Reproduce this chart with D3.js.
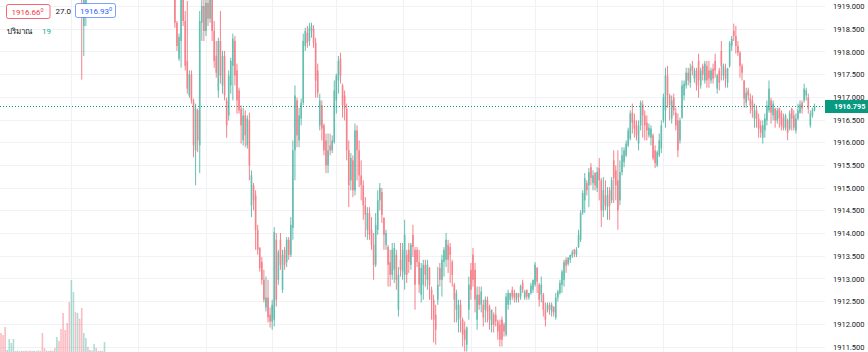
<!DOCTYPE html>
<html><head><meta charset="utf-8">
<script src="https://cdn.jsdelivr.net/npm/d3@7"></script>
<style>html,body{margin:0;padding:0;background:#fff;}svg{display:block;}</style>
</head><body><div id="chart"></div>
<script>
// ---- data (one 1-minute candle per slot; early slots sit above the visible range) ----
const opens = [
1920.60,1920.40,1920.25,1920.05,1920.15,1920.30,1920.42,1920.55,1920.48,1920.52,
1920.45,1920.50,1920.58,1920.53,1920.60,1920.55,1920.62,1920.66,1920.60,1920.64,
1920.58,1920.35,1920.30,1920.34,1920.38,1920.33,1920.37,1920.28,1920.40,1920.32,
1920.10,1919.85,1919.70,1919.55,1919.30,1919.75,1920.05,1919.80,1919.95,1919.70,
1918.56,1918.90,1919.40,1919.30,1919.58,1919.66,1919.82,1919.68,1919.76,1919.86,
1919.78,1919.96,1920.04,1919.98,1920.10,1920.16,1920.08,1920.12,1920.22,1920.15,
1920.20,1920.26,1920.18,1920.10,1920.04,1920.08,1919.96,1919.90,1919.95,1919.84,
1919.80,1919.88,1919.82,1919.74,1919.80,1919.70,1919.62,1919.70,1919.60,1919.52,
1919.58,1919.50,1919.46,1919.52,1919.44,1918.63,1917.84,1918.23,1919.22,1918.67,
1917.79,1917.03,1917.49,1916.92,1915.82,1916.70,1915.93,1918.63,1919.00,1918.45,
1919.07,1918.72,1919.22,1918.45,1917.90,1917.14,1918.23,1917.25,1917.90,1916.92,
1916.59,1917.25,1917.68,1918.23,1917.58,1917.14,1916.74,1916.04,1916.59,1915.93,
1916.48,1914.61,1915.05,1914.83,1914.07,1913.67,1913.36,1912.97,1912.36,1912.58,
1912.20,1912.05,1912.09,1913.85,1912.97,1913.85,1912.75,1913.63,1913.36,1913.85,
1913.52,1914.11,1915.82,1916.92,1916.04,1916.52,1916.87,1918.12,1918.41,1918.23,
1918.45,1918.50,1918.19,1917.58,1916.37,1916.81,1916.37,1916.04,1915.49,1915.93,
1915.82,1916.00,1916.92,1917.36,1917.84,1917.25,1917.03,1916.74,1915.82,1915.16,
1915.60,1914.94,1916.26,1915.82,1915.27,1915.05,1914.61,1914.07,1914.44,1914.07,
1913.74,1913.30,1914.07,1914.72,1914.90,1914.33,1913.74,1913.69,1913.36,1913.08,
1913.19,1913.52,1912.31,1913.41,1913.15,1913.08,1913.52,1913.63,1913.30,1913.96,
1913.63,1913.63,1913.36,1912.64,1912.86,1913.30,1912.97,1913.23,1912.75,1912.53,
1912.20,1912.53,1913.23,1912.97,1913.36,1913.41,1913.74,1913.69,1913.36,1912.86,
1912.31,1912.09,1912.42,1912.09,1911.87,1911.54,1912.31,1913.19,1913.52,1913.19,
1912.09,1912.64,1912.42,1912.42,1912.31,1912.53,1912.38,1911.98,1912.20,1912.20,
1912.05,1911.98,1912.09,1911.98,1911.76,1912.42,1912.53,1912.75,1912.68,1912.53,
1912.66,1912.60,1912.90,1912.58,1912.75,1912.58,1912.68,1912.75,1912.86,1913.23,
1912.86,1912.64,1912.64,1912.31,1912.31,1912.42,1912.27,1912.38,1912.14,1912.58,
1912.68,1912.86,1912.97,1913.41,1913.32,1913.41,1913.50,1913.63,1913.52,1913.69,
1913.85,1914.44,1914.72,1915.10,1915.05,1915.45,1915.10,1915.32,1914.99,1915.43,
1915.16,1914.50,1914.83,1914.57,1914.94,1914.72,1915.60,1915.38,1915.16,1914.72,
1915.34,1915.56,1915.71,1915.93,1916.08,1916.65,1916.48,1916.37,1915.97,1916.37,
1916.83,1916.59,1916.43,1916.15,1916.10,1916.15,1915.82,1915.49,1915.71,1915.86,
1916.48,1916.70,1917.47,1917.03,1916.52,1916.98,1916.65,1916.48,1916.04,1916.54,
1917.03,1917.25,1917.53,1917.31,1917.68,1917.40,1917.58,1917.79,1917.25,1917.68,
1917.36,1917.68,1917.58,1917.36,1917.62,1917.79,1917.18,1917.58,1918.01,1917.47,
1917.62,1917.31,1917.68,1918.12,1918.45,1918.34,1918.12,1917.97,1917.68,1917.36,
1916.87,1917.14,1916.96,1916.92,1916.52,1916.70,1916.52,1916.37,1916.10,1916.26,
1916.48,1916.70,1916.92,1916.59,1916.74,1916.48,1916.74,1916.65,1916.54,1916.32,
1916.48,1916.30,1916.74,1916.59,1916.26,1916.52,1916.65,1916.87,1916.92,1917.03,
1916.98,1916.37,1916.59,1916.70];
const highs = [
1920.70,1920.48,1920.30,1920.22,1920.38,1920.50,1920.62,1920.60,1920.58,1920.56,
1920.55,1920.62,1920.61,1920.66,1920.63,1920.67,1920.71,1920.70,1920.69,1920.67,
1920.62,1920.40,1920.39,1920.43,1920.41,1920.42,1920.40,1920.47,1920.44,1920.36,
1920.15,1919.92,1919.76,1919.60,1919.82,1920.12,1920.10,1920.02,1920.00,1919.85,
1919.40,1919.50,1919.52,1919.62,1919.70,1919.88,1919.86,1919.80,1919.90,1919.92,
1920.02,1920.08,1920.10,1920.14,1920.20,1920.22,1920.18,1920.26,1920.28,1920.24,
1920.30,1920.32,1920.24,1920.16,1920.12,1920.12,1920.02,1920.00,1920.00,1919.90,
1919.92,1919.94,1919.86,1919.84,1919.85,1919.76,1919.74,1919.75,1919.66,1919.62,
1919.64,1919.58,1919.56,1919.60,1919.66,1918.67,1918.39,1919.44,1919.55,1918.89,
1919.11,1917.58,1917.58,1916.96,1916.85,1916.74,1918.89,1919.22,1919.33,1919.55,
1919.33,1919.55,1919.33,1918.67,1918.23,1918.30,1918.89,1918.01,1918.01,1916.98,
1917.58,1917.86,1918.39,1918.34,1917.73,1917.20,1916.81,1916.76,1916.70,1916.59,
1916.65,1915.38,1915.10,1914.94,1914.18,1913.69,1913.47,1913.19,1913.04,1912.97,
1912.36,1912.53,1914.13,1914.00,1913.63,1914.00,1913.63,1913.69,1913.91,1913.91,
1914.35,1916.04,1917.25,1916.98,1916.76,1916.96,1918.39,1918.52,1918.56,1918.63,
1918.63,1918.58,1918.30,1917.73,1917.07,1916.92,1916.41,1916.19,1916.19,1916.19,
1916.15,1917.36,1917.51,1917.90,1917.97,1917.29,1917.14,1916.85,1916.04,1915.76,
1915.71,1916.41,1916.37,1916.04,1915.60,1915.16,1914.79,1914.57,1914.57,1914.35,
1914.00,1914.44,1914.94,1915.10,1914.99,1914.35,1914.07,1913.74,1913.63,1913.78,
1913.78,1913.63,1913.25,1913.78,1913.78,1914.29,1913.63,1913.78,1913.78,1914.18,
1913.69,1913.69,1913.63,1913.34,1913.41,1913.41,1913.41,1913.25,1912.82,1912.64,
1912.42,1913.25,1913.34,1913.52,1913.69,1914.00,1913.85,1913.78,1913.41,1912.90,
1912.75,1912.53,1912.53,1912.14,1912.05,1911.94,1913.04,1913.34,1913.67,1913.34,
1912.82,1912.82,1912.82,1912.53,1912.60,1912.60,1912.42,1912.31,1912.25,1912.38,
1912.09,1912.09,1912.16,1912.03,1912.68,1912.75,1912.68,1912.82,1912.75,1912.68,
1912.68,1912.86,1912.97,1912.75,1912.75,1912.68,1912.90,1912.97,1913.36,1913.25,
1912.90,1913.04,1912.68,1912.47,1912.47,1912.47,1912.47,1912.38,1912.68,1912.75,
1912.97,1913.19,1913.41,1913.47,1913.47,1913.52,1913.63,1913.65,1913.69,1914.07,
1914.50,1914.94,1915.32,1915.16,1915.43,1915.54,1915.38,1915.34,1915.45,1915.65,
1915.21,1915.23,1915.16,1915.01,1915.01,1915.23,1915.82,1915.49,1915.82,1915.60,
1915.89,1915.89,1916.04,1916.32,1916.70,1916.85,1916.63,1916.48,1916.48,1916.92,
1916.92,1916.70,1916.59,1916.41,1916.37,1916.19,1915.93,1915.82,1916.19,1916.48,
1917.07,1917.64,1917.68,1917.07,1917.03,1917.07,1916.76,1916.63,1916.54,1917.36,
1917.36,1917.64,1917.64,1917.73,1917.79,1917.64,1917.64,1917.95,1917.64,1917.73,
1917.79,1917.79,1917.79,1917.64,1917.73,1917.95,1917.51,1917.64,1918.23,1917.73,
1917.73,1917.64,1918.23,1918.34,1918.61,1918.56,1918.23,1918.01,1917.73,1917.36,
1917.20,1917.20,1917.07,1917.03,1916.85,1916.81,1916.63,1916.48,1916.48,1916.63,
1916.92,1917.36,1916.98,1916.92,1916.76,1916.76,1916.76,1916.70,1916.63,1916.63,
1916.52,1916.70,1916.76,1916.70,1916.63,1916.85,1916.92,1916.92,1917.29,1917.20,
1917.07,1916.70,1916.76,1916.85];
const lows = [
1920.32,1920.18,1919.95,1919.98,1920.08,1920.22,1920.36,1920.42,1920.44,1920.40,
1920.42,1920.47,1920.49,1920.50,1920.51,1920.52,1920.58,1920.55,1920.57,1920.52,
1920.28,1920.24,1920.27,1920.30,1920.28,1920.30,1920.22,1920.25,1920.26,1920.02,
1919.78,1919.62,1919.48,1919.24,1919.26,1919.70,1919.74,1919.72,1919.62,1917.38,
1917.90,1918.56,1919.25,1919.28,1919.50,1919.60,1919.62,1919.64,1919.70,1919.74,
1919.74,1919.90,1919.94,1919.95,1920.04,1920.05,1920.02,1920.08,1920.12,1920.10,
1920.14,1920.16,1920.06,1919.98,1919.98,1919.92,1919.86,1919.85,1919.80,1919.74,
1919.76,1919.78,1919.70,1919.70,1919.66,1919.58,1919.58,1919.56,1919.48,1919.48,
1919.44,1919.42,1919.40,1919.38,1918.52,1918.01,1917.79,1917.64,1918.56,1917.58,
1917.07,1916.98,1916.85,1915.67,1915.05,1915.78,1915.32,1918.23,1918.23,1918.34,
1918.56,1918.63,1918.23,1917.64,1917.42,1916.98,1917.29,1917.07,1916.92,1916.10,
1916.48,1917.07,1916.92,1917.25,1916.63,1916.63,1915.97,1915.93,1915.89,1915.86,
1915.16,1914.35,1914.50,1913.63,1913.52,1913.15,1912.86,1912.47,1912.27,1912.03,
1911.92,1911.87,1911.94,1912.38,1912.86,1913.19,1912.68,1913.19,1913.25,1913.41,
1913.47,1913.85,1915.16,1915.89,1915.89,1916.37,1916.81,1918.01,1918.08,1918.12,
1918.30,1918.08,1916.98,1916.98,1916.26,1916.04,1915.71,1915.32,1915.32,1915.71,
1915.76,1915.97,1916.63,1917.07,1917.29,1916.54,1916.48,1915.60,1914.57,1914.94,
1914.79,1914.83,1915.16,1915.01,1914.72,1914.29,1913.91,1913.85,1913.85,1913.63,
1912.97,1913.25,1913.96,1914.50,1914.22,1913.63,1913.63,1912.82,1912.82,1912.97,
1912.90,1912.75,1912.16,1913.04,1912.97,1912.75,1912.90,1913.12,1913.19,1913.47,
1912.31,1913.25,1912.68,1912.47,1912.53,1912.82,1912.75,1912.53,1912.09,1911.59,
1911.54,1912.42,1912.82,1912.60,1913.04,1913.25,1913.12,1912.90,1912.82,1912.03,
1912.03,1911.81,1911.81,1911.50,1911.39,1911.39,1912.09,1912.53,1912.82,1912.25,
1911.87,1912.31,1912.25,1911.94,1912.03,1912.03,1911.87,1911.81,1911.81,1911.94,
1911.65,1911.50,1911.50,1911.72,1911.72,1912.31,1912.42,1912.53,1912.47,1912.47,
1912.47,1912.53,1912.68,1912.53,1912.53,1912.53,1912.64,1912.68,1912.82,1912.68,
1912.38,1912.47,1912.16,1911.94,1912.25,1912.20,1912.16,1912.16,1912.09,1912.49,
1912.64,1912.68,1912.82,1913.12,1913.28,1913.34,1913.45,1913.47,1913.47,1913.67,
1913.80,1914.40,1914.44,1914.83,1914.57,1915.05,1914.94,1914.94,1914.90,1914.72,
1914.13,1914.35,1914.50,1914.29,1914.29,1914.66,1914.66,1914.72,1914.07,1914.61,
1915.27,1915.45,1915.67,1915.89,1916.04,1916.19,1916.10,1916.04,1915.82,1916.26,
1916.10,1916.04,1916.04,1916.10,1915.93,1915.60,1915.43,1915.45,1915.67,1915.76,
1916.43,1916.32,1916.76,1916.48,1916.41,1916.59,1916.26,1915.67,1915.97,1916.52,
1916.92,1917.18,1917.25,1917.20,1917.47,1917.31,1917.14,1916.98,1917.18,1917.36,
1917.29,1917.20,1917.20,1917.29,1917.29,1917.42,1917.07,1917.14,1917.36,1917.36,
1917.20,1917.20,1917.64,1918.01,1918.23,1917.95,1917.90,1917.42,1917.36,1916.76,
1916.76,1916.92,1916.63,1916.54,1916.32,1916.32,1916.10,1916.10,1915.97,1916.10,
1916.37,1916.65,1916.41,1916.48,1916.32,1916.41,1916.32,1916.26,1916.26,1916.26,
1916.04,1916.26,1916.26,1916.26,1916.19,1916.48,1916.63,1916.63,1916.87,1916.92,
1916.63,1916.32,1916.54,1916.68];
const closes = [
1920.40,1920.25,1920.05,1920.15,1920.30,1920.42,1920.55,1920.48,1920.52,1920.45,
1920.50,1920.58,1920.53,1920.60,1920.55,1920.62,1920.66,1920.60,1920.64,1920.58,
1920.35,1920.30,1920.34,1920.38,1920.33,1920.37,1920.28,1920.40,1920.32,1920.10,
1919.85,1919.70,1919.55,1919.30,1919.75,1920.05,1919.80,1919.95,1919.70,1919.35,
1919.30,1919.40,1919.30,1919.58,1919.66,1919.82,1919.68,1919.76,1919.86,1919.78,
1919.96,1920.04,1919.98,1920.10,1920.16,1920.08,1920.12,1920.22,1920.15,1920.20,
1920.26,1920.18,1920.10,1920.04,1920.08,1919.96,1919.90,1919.95,1919.84,1919.80,
1919.88,1919.82,1919.74,1919.80,1919.70,1919.62,1919.70,1919.60,1919.52,1919.58,
1919.50,1919.46,1919.52,1919.44,1918.63,1918.12,1918.32,1919.22,1918.67,1917.68,
1917.18,1917.49,1916.92,1915.93,1916.74,1916.04,1918.67,1919.00,1918.45,1919.07,
1918.72,1919.22,1918.45,1917.79,1917.53,1918.23,1917.47,1917.90,1917.03,1916.37,
1917.47,1917.79,1918.28,1917.47,1916.92,1916.70,1916.37,1916.59,1916.15,1916.52,
1915.49,1915.27,1914.72,1914.07,1913.63,1913.23,1912.97,1912.53,1912.58,1912.14,
1912.05,1912.42,1914.02,1912.53,1913.58,1913.30,1913.52,1913.30,1913.85,1913.52,
1914.18,1915.82,1917.03,1916.15,1916.59,1916.87,1918.23,1918.45,1918.19,1918.52,
1918.56,1918.19,1917.36,1917.09,1916.92,1916.30,1915.82,1915.49,1915.82,1915.82,
1916.04,1917.14,1917.47,1917.79,1917.47,1916.81,1916.74,1915.82,1915.05,1915.65,
1914.94,1916.26,1915.82,1915.27,1915.05,1914.61,1914.40,1914.44,1913.96,1913.74,
1913.30,1914.18,1914.72,1914.99,1914.40,1913.96,1914.00,1913.30,1913.08,1913.63,
1913.67,1912.97,1913.08,1913.19,1913.63,1913.96,1913.08,1913.36,1913.74,1913.69,
1912.86,1913.36,1912.86,1913.23,1913.30,1913.08,1913.30,1912.86,1912.53,1912.09,
1911.87,1912.86,1912.97,1913.41,1913.63,1913.85,1913.41,1913.52,1913.08,1912.53,
1912.68,1912.42,1912.14,1911.76,1911.65,1911.92,1912.86,1912.75,1912.97,1912.53,
1912.64,1912.42,1912.71,1912.14,1912.53,1912.27,1912.09,1912.31,1911.98,1912.05,
1911.83,1911.65,1911.65,1911.83,1912.60,1912.68,1912.68,1912.60,1912.58,1912.68,
1912.58,1912.82,1912.75,1912.71,1912.60,1912.68,1912.84,1912.97,1913.30,1912.93,
1912.53,1912.86,1912.31,1912.09,1912.42,1912.31,1912.42,1912.25,1912.58,1912.71,
1912.90,1913.15,1913.36,1913.28,1913.45,1913.52,1913.58,1913.54,1913.63,1913.96,
1914.44,1914.88,1915.21,1914.94,1915.34,1915.21,1915.27,1915.05,1915.34,1915.16,
1914.50,1914.94,1914.61,1914.83,1914.61,1915.16,1915.21,1915.05,1914.50,1915.34,
1915.71,1915.82,1915.97,1916.26,1916.63,1916.43,1916.30,1916.15,1916.37,1916.87,
1916.59,1916.37,1916.26,1916.32,1916.30,1915.65,1915.54,1915.78,1916.04,1916.37,
1916.98,1917.47,1917.03,1916.81,1916.92,1916.70,1916.37,1915.82,1916.48,1917.25,
1917.29,1917.53,1917.36,1917.62,1917.58,1917.58,1917.25,1917.36,1917.58,1917.49,
1917.73,1917.36,1917.40,1917.58,1917.40,1917.58,1917.47,1917.31,1917.68,1917.68,
1917.40,1917.62,1918.19,1918.28,1918.34,1918.12,1917.97,1917.68,1917.53,1916.96,
1917.09,1917.03,1916.81,1916.70,1916.70,1916.52,1916.30,1916.21,1916.37,1916.52,
1916.81,1917.18,1916.65,1916.85,1916.48,1916.70,1916.52,1916.37,1916.32,1916.59,
1916.21,1916.63,1916.52,1916.32,1916.52,1916.70,1916.83,1916.74,1917.18,1917.14,
1916.74,1916.63,1916.72,1916.795];
// volume, only the first bars are tall enough to show
const volumes = [
114,102,150,12,78,54,78,6,8,5, 7,6,9,5,8,6,7,5,9,6,
114,24,8,6,9,7,24,90,66,138, 234,132,174,300,432,360,240,234,200,264,
114,84,30,12,8,48,24,6,8,6, 60];
const priceTicks = [1911.5,1912,1912.5,1913,1913.5,1914,1914.5,1915,1915.5,1916,1916.5,1917,1917.5,1918,1918.5,1919];
const timeGridIdx = [34,66,99,131,162,194,227,258,288,320,353,384];
const lastPrice = 1916.795;
const bidText = "1916.66", askText = "1916.93", spreadText = "27.0";
const volLabel = "ปริมาณ", volValue = "19";

// ---- layout ----
const W = 868, H = 352, plotW = 825;
const UP = "#089981", DOWN = "#f23645";
const svg = d3.select("#chart").append("svg").attr("width", W).attr("height", H)
  .style("font-family", "Roboto, 'Liberation Sans', 'Noto Sans', sans-serif");
svg.append("rect").attr("width", W).attr("height", H).attr("fill", "#fff");

const n = closes.length;
const x = d3.scaleLinear().domain([0, 393]).range([1, 1 + 2.07 * 393]);
const y = d3.scaleLinear().domain([1911.5, 1919]).range([346.5, 6]);
const yv = d3.scaleLinear().domain([0, 600]).range([H, H - 100]);

svg.append("clipPath").attr("id", "plot").append("rect").attr("width", plotW).attr("height", H);

// grid
const grid = svg.append("g").attr("stroke", "#f1f2f4").attr("stroke-width", 1);
grid.selectAll(".h").data(priceTicks).join("line")
  .attr("x1", 0).attr("x2", plotW)
  .attr("y1", d => Math.round(y(d)) + 0.5).attr("y2", d => Math.round(y(d)) + 0.5);
grid.selectAll(".v").data(timeGridIdx).join("line")
  .attr("y1", 0).attr("y2", H)
  .attr("x1", d => Math.round(x(d)) + 0.5).attr("x2", d => Math.round(x(d)) + 0.5);

const plot = svg.append("g").attr("clip-path", "url(#plot)");

// volume
const vg = plot.append("g").attr("opacity", 0.32);
vg.selectAll("rect").data(volumes).join("rect")
  .attr("x", (d, i) => x(i) - 0.8).attr("width", 1.6)
  .attr("y", d => yv(d)).attr("height", d => H - yv(d))
  .attr("fill", (d, i) => closes[i] >= opens[i] ? UP : DOWN);

// candles
const idx = d3.range(n);
const cg = plot.append("g").attr("opacity", 0.62);
cg.selectAll("line").data(idx).join("line")
  .attr("x1", i => x(i)).attr("x2", i => x(i))
  .attr("y1", i => y(highs[i])).attr("y2", i => y(lows[i]))
  .attr("stroke", i => closes[i] >= opens[i] ? UP : DOWN).attr("stroke-width", 1);
cg.selectAll("rect").data(idx).join("rect")
  .attr("x", i => x(i) - 0.8).attr("width", 1.6)
  .attr("y", i => y(Math.max(opens[i], closes[i])))
  .attr("height", i => Math.max(1, Math.abs(y(opens[i]) - y(closes[i]))))
  .attr("fill", i => closes[i] >= opens[i] ? UP : DOWN);

// last price line
const ly = Math.round(y(lastPrice)) + 0.5;
svg.append("line").attr("x1", 0).attr("x2", plotW).attr("y1", ly).attr("y2", ly)
  .attr("stroke", UP).attr("stroke-width", 1).attr("stroke-dasharray", "1,2");

// price axis
const axis = d3.axisRight(y).tickValues(priceTicks).tickFormat(d3.format(".3f")).tickSize(0).tickPadding(0);
const ag = svg.append("g").attr("transform", `translate(833,0)`).call(axis);
ag.select(".domain").remove();
ag.selectAll("text").attr("fill", "#131722").style("font-size", "7.5px").attr("dy", "0.35em")
  .style("font-family", "Roboto, 'Liberation Sans', sans-serif");

// last price label
svg.append("rect").attr("x", 825).attr("y", ly - 6.5).attr("width", 43).attr("height", 13).attr("fill", UP);
svg.append("text").attr("x", 834).attr("y", ly).attr("dy", "0.35em")
  .attr("fill", "#fff").style("font-size", "7.3px").style("font-weight", "bold")
  .text(d3.format(".3f")(lastPrice));

// legend
const lg = svg.append("g").style("font-size", "8px");
lg.append("rect").attr("x", 6.5).attr("y", 4.5).attr("width", 43.5).attr("height", 14).attr("rx", 2)
  .attr("fill", "#fff").attr("stroke", DOWN).attr("stroke-opacity", 0.75);
const t1 = lg.append("text").attr("x", 11.5).attr("y", 14.8).attr("fill", DOWN);
t1.append("tspan").text(bidText);
t1.append("tspan").attr("dy", -2.5).style("font-size", "5.5px").text("0");
lg.append("text").attr("x", 55.5).attr("y", 14.3).attr("fill", "#131722").text(spreadText);
lg.append("rect").attr("x", 75.5).attr("y", 3.5).attr("width", 40).attr("height", 14).attr("rx", 2)
  .attr("fill", "#fff").attr("stroke", "#2962ff").attr("stroke-opacity", 0.6);
const t2 = lg.append("text").attr("x", 80).attr("y", 13.8).attr("fill", "#2962ff");
t2.append("tspan").text(askText);
t2.append("tspan").attr("dy", -2.5).style("font-size", "5.5px").text("0");
lg.append("text").attr("x", 7).attr("y", 33.5).attr("fill", "#131722").text(volLabel);
lg.append("text").attr("x", 42).attr("y", 33.5).attr("fill", "#22ab94").text(volValue);
</script></body></html>
